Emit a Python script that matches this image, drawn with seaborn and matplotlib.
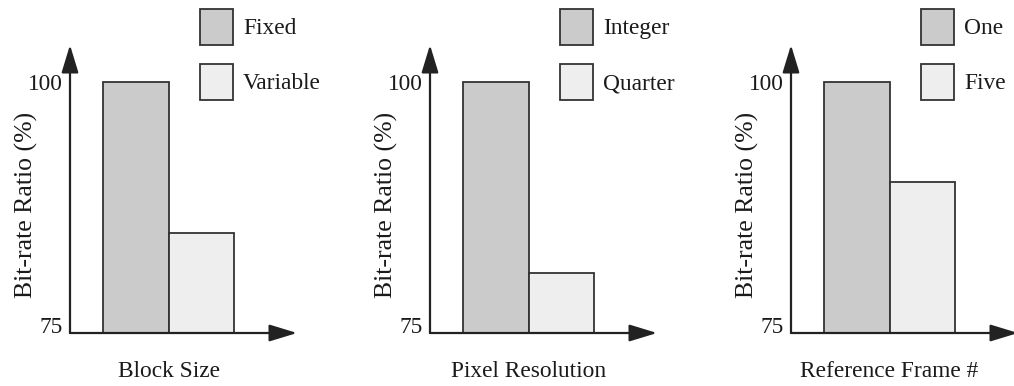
import matplotlib
matplotlib.use("Agg")
import matplotlib.pyplot as plt
from matplotlib.patches import Patch
import seaborn as sns

# ---- data ----
xlabels = ["Block Size", "Pixel Resolution", "Reference Frame #"]
block_labels = ["Fixed", "Variable"]
block_values = [100, 85]
pixel_labels = ["Integer", "Quarter"]
pixel_values = [100, 81]
ref_labels = ["One", "Five"]
ref_values = [100, 90]
ylabel = "Bit-rate Ratio (%)"
yticks = [75, 100]

panels = [
    (block_labels, block_values, xlabels[0]),
    (pixel_labels, pixel_values, xlabels[1]),
    (ref_labels, ref_values, xlabels[2]),
]

sns.set_style("white")
plt.rcParams["font.family"] = ["Liberation Serif", "DejaVu Serif"]
plt.rcParams["text.color"] = "#1a1a1a"
plt.rcParams["axes.labelcolor"] = "#1a1a1a"
plt.rcParams["ytick.color"] = "#1a1a1a"

W, H = 1014, 386
fig = plt.figure(figsize=(W / 100, H / 100), dpi=100)

dark = "#cbcbcb"
light = "#eeeeee"
edge = "#333333"
fs = 16.8

axis_x_px = [70, 430, 791]
ax_w_px = 227
bottom_px = 333
top_px = 45

xlim = (-1.004, 2.462)
ylim = (75, 75 + (bottom_px - top_px) / 10.04)

for (labels, values, xl), x0 in zip(panels, axis_x_px):
    ax = fig.add_axes([x0 / W, (H - bottom_px) / H, ax_w_px / W, (bottom_px - top_px) / H])
    sns.barplot(x=labels, y=values, hue=labels, palette=[dark, light], width=1.0,
                edgecolor=edge, linewidth=1.3, dodge=False, legend=False, ax=ax,
                order=labels, hue_order=labels)
    ax.set_xlim(*xlim)
    ax.set_ylim(*ylim)
    for s in ax.spines.values():
        s.set_visible(False)
    ax.set_xticks([])
    ax.set_yticks(yticks)
    ax.set_yticklabels([str(t) for t in yticks], fontsize=fs)
    ax.tick_params(axis="y", length=0, pad=5)
    tl = ax.get_yticklabels()
    tl[0].set_va("baseline")
    ax.grid(False)

    # arrowed axes
    arrow = dict(arrowstyle="-|>,head_length=1.7,head_width=0.52", lw=1.6,
                 color="#222222", shrinkA=0, shrinkB=0, mutation_scale=10)
    ax.annotate("", xy=(0, 1), xytext=(0, 0), xycoords="axes fraction",
                textcoords="axes fraction", arrowprops=arrow, annotation_clip=False)
    ax.annotate("", xy=(1, 0), xytext=(0, 0), xycoords="axes fraction",
                textcoords="axes fraction", arrowprops=arrow, annotation_clip=False)

    ax.set_xlabel(xl, fontsize=fs)
    ax.xaxis.set_label_coords((0.5 - xlim[0]) / (xlim[1] - xlim[0]), -0.097)
    ax.set_ylabel(ylabel, fontsize=18.5)
    ax.yaxis.set_label_coords(-0.14, 0.443)

    handles = [Patch(facecolor=dark, edgecolor=edge, linewidth=1.3, label=labels[0]),
               Patch(facecolor=light, edgecolor=edge, linewidth=1.3, label=labels[1])]
    ax.legend(handles=handles, loc="upper left",
              bbox_to_anchor=(130 / ax_w_px, 1 + (top_px - 9) / (bottom_px - top_px)),
              frameon=False, borderpad=0, borderaxespad=0, fontsize=fs,
              handlelength=1.41, handleheight=2.0, labelspacing=0.8,
              handletextpad=0.44)

fig.savefig("out.png", dpi=100)
